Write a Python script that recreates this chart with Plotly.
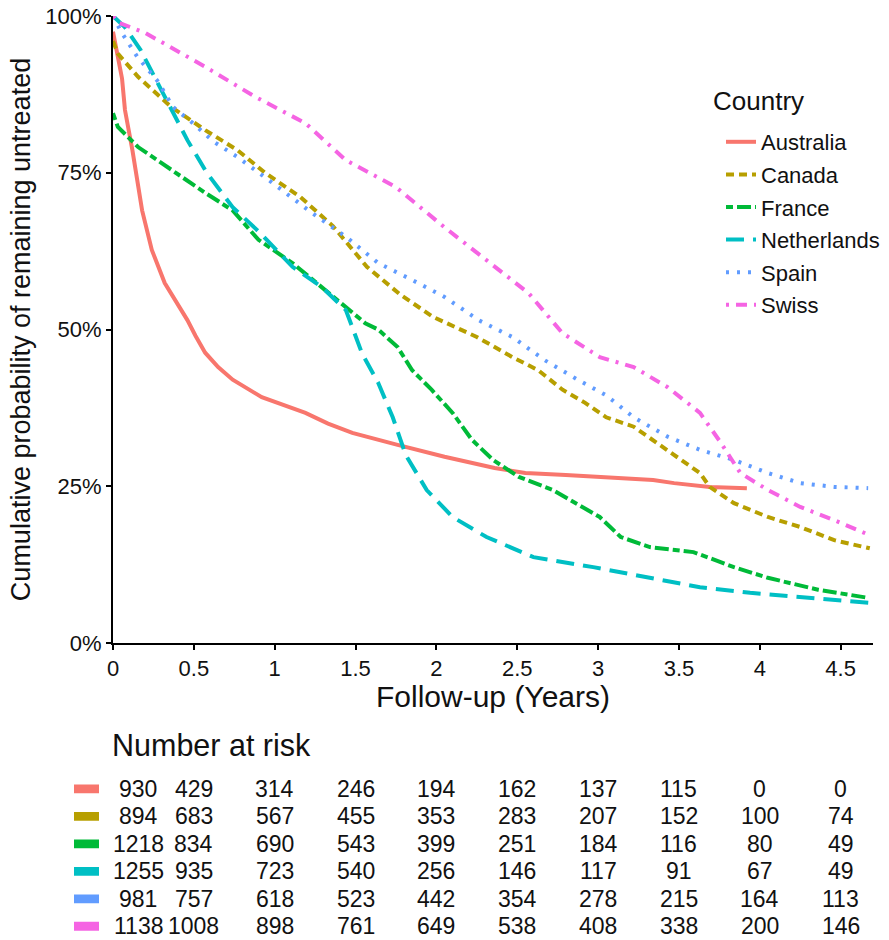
import plotly.graph_objects as go

countries = ["Australia", "Canada", "France", "Netherlands", "Spain", "Swiss"]
colors = ["#F8766D", "#B79F00", "#00BA38", "#00BFC4", "#619CFF", "#F564E3"]
dashes = ["solid", "8px,5px", "7px,4px,14px,4px", "18px,9px", "3px,8px", "3px,7px,11px,7px"]

aus_t = [0, 0.03, 0.056, 0.074, 0.12, 0.18, 0.24, 0.32, 0.40, 0.46, 0.51, 0.57, 0.65, 0.74, 0.92, 1.05, 1.19, 1.33, 1.48, 1.76, 2.05, 2.36, 2.55, 2.8, 3.09, 3.34, 3.47, 3.69, 3.92]
aus_s = [0.975, 0.93, 0.90, 0.85, 0.786, 0.69, 0.627, 0.574, 0.54, 0.515, 0.49, 0.463, 0.44, 0.42, 0.392, 0.38, 0.367, 0.35, 0.335, 0.316, 0.297, 0.279, 0.271, 0.268, 0.263, 0.26, 0.255, 0.249, 0.247]

can_t = [0, 0.03, 0.155, 0.36, 0.57, 0.77, 0.94, 1.16, 1.36, 1.57, 1.78, 1.98, 2.25, 2.47, 2.63, 2.78, 2.92, 3.05, 3.22, 3.43, 3.63, 3.69, 3.84, 4.05, 4.25, 4.46, 4.68]
can_s = [0.96, 0.94, 0.903, 0.855, 0.818, 0.786, 0.75, 0.711, 0.665, 0.60, 0.555, 0.52, 0.488, 0.456, 0.435, 0.404, 0.383, 0.36, 0.345, 0.308, 0.271, 0.249, 0.223, 0.201, 0.185, 0.164, 0.151]

fra_t = [0, 0.03, 0.155, 0.365, 0.57, 0.74, 0.9, 1.11, 1.29, 1.48, 1.56, 1.64, 1.76, 1.85, 1.97, 2.1, 2.22, 2.35, 2.51, 2.72, 3.01, 3.14, 3.32, 3.59, 3.84, 4.05, 4.36, 4.67]
fra_s = [0.845, 0.823, 0.791, 0.754, 0.718, 0.69, 0.643, 0.606, 0.568, 0.526, 0.51, 0.5, 0.472, 0.435, 0.404, 0.367, 0.324, 0.292, 0.265, 0.244, 0.201, 0.169, 0.153, 0.145, 0.121, 0.104, 0.085, 0.072]

ned_t = [0, 0.074, 0.17, 0.33, 0.46, 0.58, 0.74, 0.91, 1.11, 1.29, 1.44, 1.54, 1.64, 1.73, 1.81, 1.94, 2.1, 2.31, 2.6, 2.97, 3.32, 3.63, 3.94, 4.25, 4.68]
ned_s = [1.0, 0.982, 0.946, 0.866, 0.802, 0.75, 0.695, 0.654, 0.6, 0.568, 0.531, 0.462, 0.415, 0.36, 0.30, 0.244, 0.201, 0.169, 0.137, 0.121, 0.104, 0.089, 0.08, 0.073, 0.064]

spa_t = [0, 0.05, 0.15, 0.28, 0.37, 0.49, 0.62, 0.77, 0.98, 1.23, 1.44, 1.64, 1.85, 2.05, 2.26, 2.47, 2.67, 2.88, 3.05, 3.22, 3.43, 3.63, 3.84, 4.05, 4.25, 4.46, 4.67]
spa_s = [1.0, 0.975, 0.935, 0.895, 0.855, 0.83, 0.80, 0.775, 0.735, 0.686, 0.648, 0.606, 0.579, 0.552, 0.515, 0.488, 0.451, 0.419, 0.395, 0.36, 0.329, 0.308, 0.292, 0.271, 0.255, 0.249, 0.247]

swi_t = [0, 0.03, 0.2, 0.57, 0.88, 1.19, 1.44, 1.75, 2.05, 2.36, 2.57, 2.78, 3.01, 3.22, 3.43, 3.63, 3.76, 3.88, 4.05, 4.25, 4.46, 4.68]
swi_s = [1.0, 0.99, 0.973, 0.919, 0.871, 0.829, 0.77, 0.727, 0.663, 0.6, 0.558, 0.494, 0.456, 0.44, 0.408, 0.367, 0.319, 0.271, 0.244, 0.217, 0.196, 0.172]

curves_t = [aus_t, can_t, fra_t, ned_t, spa_t, swi_t]
curves_s = [aus_s, can_s, fra_s, ned_s, spa_s, swi_s]

risk_times = [0, 0.5, 1, 1.5, 2, 2.5, 3, 3.5, 4, 4.5]
risk_aus = [930, 429, 314, 246, 194, 162, 137, 115, 0, 0]
risk_can = [894, 683, 567, 455, 353, 283, 207, 152, 100, 74]
risk_fra = [1218, 834, 690, 543, 399, 251, 184, 116, 80, 49]
risk_ned = [1255, 935, 723, 540, 256, 146, 117, 91, 67, 49]
risk_spa = [981, 757, 618, 523, 442, 354, 278, 215, 164, 113]
risk_swi = [1138, 1008, 898, 761, 649, 538, 408, 338, 200, 146]
risk_rows = [risk_aus, risk_can, risk_fra, risk_ned, risk_spa, risk_swi]

x_ticks = [0, 0.5, 1, 1.5, 2, 2.5, 3, 3.5, 4, 4.5]
x_ticklabels = ["0", "0.5", "1", "1.5", "2", "2.5", "3", "3.5", "4", "4.5"]
y_ticks = [0, 0.25, 0.5, 0.75, 1.0]
y_ticklabels = ["0%", "25%", "50%", "75%", "100%"]

FONT = "Liberation Sans, Arial, sans-serif"
H_PAPER = 924.0  # plot-paper height in pixels (940 - top margin 16)


def py(p):
    """screen pixel row -> paper y"""
    return (940 - p) / H_PAPER


def px(p):
    """screen pixel column -> paper x"""
    return (p - 113) / 760.0


fig = go.Figure()
for name, c, d, t, s in zip(countries, colors, dashes, curves_t, curves_s):
    fig.add_trace(go.Scatter(x=t, y=s, mode="lines", name=name, legendgroup=name,
                             line=dict(color=c, width=4, dash=d),
                             xaxis="x", yaxis="y"))

shapes = []
for i, c in enumerate(colors):
    shapes.append(dict(type="rect", xref="paper", yref="y2",
                       x0=px(74), x1=px(99), y0=i - 0.16, y1=i + 0.16,
                       fillcolor=c, line=dict(width=0)))

annotations = []
for i, row in enumerate(risk_rows):
    for j, (tt, v) in enumerate(zip(risk_times, row)):
        annotations.append(dict(x=tt, y=i, xref="x2", yref="y2", text=str(v),
                                showarrow=False, xanchor="center", yanchor="middle",
                                xshift=25 if j == 0 else 0,
                                font=dict(size=23, color="#111", family=FONT)))
annotations.append(dict(x=0, y=py(745), xref="paper", yref="paper", xshift=-3,
                        text="Number at risk", showarrow=False, xanchor="left",
                        yanchor="middle", font=dict(size=30.5, color="#111", family=FONT)))
annotations.append(dict(x=px(711), y=py(101), xref="paper", yref="paper",
                        text="Country", showarrow=False, xanchor="left",
                        yanchor="middle", font=dict(size=26, color="#111", family=FONT)))
annotations.append(dict(x=0.5, y=py(696), xref="paper", yref="paper",
                        text="Follow-up (Years)", showarrow=False, xanchor="center",
                        yanchor="middle", font=dict(size=30, color="#111", family=FONT)))

fig.update_layout(
    width=889, height=940,
    margin=dict(l=113, r=16, t=16, b=0),
    paper_bgcolor="white", plot_bgcolor="white",
    font=dict(family=FONT, color="#111"),
    showlegend=True,
    legend=dict(x=px(721), y=py(121), xanchor="left", yanchor="top",
                font=dict(size=22, color="#111"),
                tracegroupgap=1, traceorder="grouped",
                bgcolor="rgba(255,255,255,0)"),
    xaxis=dict(domain=[0, 1], range=[0, 4.7], anchor="y", automargin=False,
               tickvals=x_ticks, ticktext=x_ticklabels, ticklabeloverflow="allow",
               showgrid=False, zeroline=False, showline=True, linecolor="black", linewidth=2,
               ticks="outside", ticklen=5, tickwidth=2, tickcolor="black",
               tickfont=dict(size=22, color="#111")),
    yaxis=dict(domain=[py(643), 1], range=[0, 1], anchor="x", automargin=False,
               tickvals=y_ticks, ticktext=y_ticklabels, ticklabeloverflow="allow",
               showgrid=False, zeroline=False, showline=True, linecolor="black", linewidth=2,
               ticks="outside", ticklen=5, tickwidth=2, tickcolor="black",
               tickfont=dict(size=22, color="#111"),
               title=dict(text="Cumulative probability of remaining untreated",
                          font=dict(size=27, color="#111"), standoff=7)),
    xaxis2=dict(domain=[0, 1], range=[0, 4.7], anchor="y2", visible=False),
    yaxis2=dict(domain=[0, py(775.2)], range=[5.5, -0.5], anchor="x2", visible=False),
    annotations=annotations,
    shapes=shapes,
)

fig.write_html("out.html", config={"displayModeBar": False},
               post_script="document.body.style.margin='0px';")
